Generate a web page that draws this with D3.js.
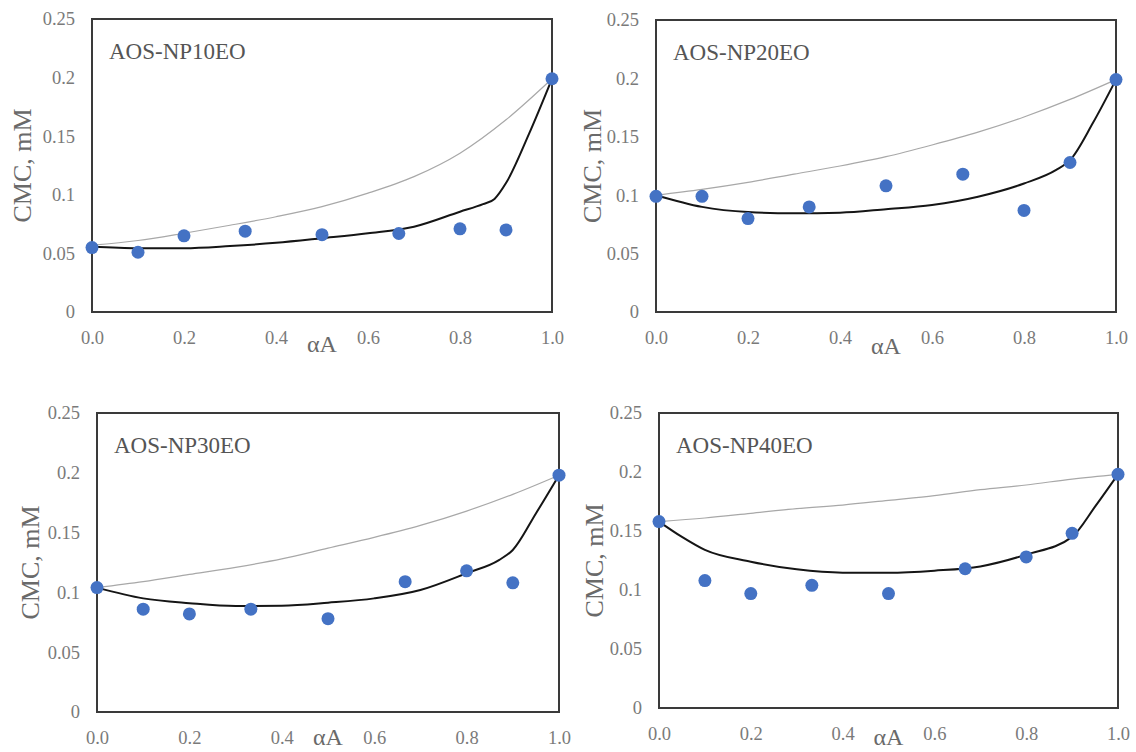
<!DOCTYPE html>
<html>
<head>
<meta charset="utf-8">
<script src="https://cdn.jsdelivr.net/npm/d3@7"></script>
<style>
  html, body { margin: 0; padding: 0; background: #fff; }
  svg { display: block; }
</style>
</head>
<body>
<svg id="chart" width="1136" height="752"></svg>
<script>
// ---------- data ----------
const titles = ["AOS-NP10EO", "AOS-NP20EO", "AOS-NP30EO", "AOS-NP40EO"];
const xTicks = [0, 0.2, 0.4, 0.6, 0.8, 1.0];
const yTicks = [0, 0.05, 0.1, 0.15, 0.2, 0.25];
const xLabel = "αA";
const yLabel = "CMC, mM";

// experimental points
const pointAlpha = [0, 0.1, 0.2, 0.333, 0.5, 0.667, 0.8, 0.9, 1.0];
const cmc10 = [0.055, 0.051, 0.065, 0.069, 0.066, 0.067, 0.071, 0.070, 0.199];
const cmc20 = [0.099, 0.099, 0.080, 0.090, 0.108, 0.118, 0.087, 0.128, 0.199];
const cmc30 = [0.104, 0.086, 0.082, 0.086, 0.078, 0.109, 0.118, 0.108, 0.198];
const cmc40 = [0.158, 0.108, 0.097, 0.104, 0.097, 0.118, 0.128, 0.148, 0.198];

// ideal mixing (thin grey line)
const idealAlpha = [0, 0.1, 0.2, 0.3, 0.4, 0.5, 0.6, 0.7, 0.8, 0.9, 1.0];
const ideal10 = [0.057, 0.061, 0.0672, 0.074, 0.0813, 0.0899, 0.1014, 0.1155, 0.1355, 0.164, 0.199];
const ideal20 = [0.100, 0.105, 0.111, 0.118, 0.125, 0.133, 0.143, 0.154, 0.167, 0.182, 0.199];
const ideal30 = [0.104, 0.109, 0.115, 0.121, 0.128, 0.137, 0.146, 0.156, 0.168, 0.182, 0.198];
const ideal40 = [0.158, 0.161, 0.165, 0.169, 0.172, 0.176, 0.180, 0.185, 0.189, 0.194, 0.198];

// regular solution (black line)
const regAlpha10 = [0, 0.1, 0.2, 0.3, 0.4, 0.5, 0.6, 0.7, 0.8, 0.85, 0.875, 0.9, 0.95, 1.0];
const reg10 = [0.0557, 0.0545, 0.0545, 0.0563, 0.059, 0.0629, 0.0671, 0.0728, 0.0856, 0.092, 0.0965, 0.11, 0.152, 0.199];
const regAlpha20 = [0, 0.1, 0.2, 0.3, 0.4, 0.5, 0.6, 0.7, 0.8, 0.87, 0.9, 0.95, 1.0];
const reg20 = [0.1, 0.09, 0.0856, 0.0845, 0.085, 0.088, 0.0916, 0.0987, 0.11, 0.1216, 0.13, 0.162, 0.199];
const regAlpha30 = [0, 0.1, 0.2, 0.3, 0.4, 0.5, 0.6, 0.7, 0.8, 0.87, 0.9, 0.95, 1.0];
const reg30 = [0.104, 0.095, 0.091, 0.0886, 0.0889, 0.0914, 0.095, 0.102, 0.116, 0.127, 0.1355, 0.166, 0.198];
const regAlpha40 = [0, 0.05, 0.1, 0.2, 0.3, 0.4, 0.5, 0.6, 0.7, 0.8, 0.9, 0.95, 1.0];
const reg40 = [0.158, 0.145, 0.134, 0.124, 0.1175, 0.1147, 0.1147, 0.1164, 0.12, 0.13, 0.145, 0.1706, 0.198];

const seriesPoints = [cmc10, cmc20, cmc30, cmc40];
const seriesIdeal = [ideal10, ideal20, ideal30, ideal40];
const seriesRegAlpha = [regAlpha10, regAlpha20, regAlpha30, regAlpha40];
const seriesReg = [reg10, reg20, reg30, reg40];

// ---------- layout ----------
const layout = [
  { l: 92,  r: 552,  t: 19,  b: 312, yl: 22,  xlOff: 40 },
  { l: 656, r: 1116, t: 20,  b: 312, yl: 592, xlOff: 42 },
  { l: 97,  r: 559,  t: 413, b: 712, yl: 30,  xlOff: 33 },
  { l: 659, r: 1118, t: 413, b: 708, yl: 594, xlOff: 37 }
];

const svg = d3.select("#chart");
const serif = "'Liberation Serif', 'Times New Roman', Times, serif";

layout.forEach((p, i) => {
  const x = d3.scaleLinear().domain([0, 1]).range([p.l, p.r]);
  const y = d3.scaleLinear().domain([0, 0.25]).range([p.b, p.t]);
  const g = svg.append("g");

  // y axis tick labels
  const yAxis = d3.axisLeft(y).tickValues(yTicks).tickSize(0).tickPadding(17)
    .tickFormat(d => d === 0 ? "0" : String(+d.toFixed(2)));
  const ya = g.append("g").attr("transform", `translate(${p.l},0)`).call(yAxis);
  ya.select(".domain").remove();
  ya.selectAll("text").attr("font-family", serif).attr("font-size", 18.5).attr("fill", "#7a7a7a");

  // x axis tick labels
  const xAxis = d3.axisBottom(x).tickValues(xTicks).tickSize(0).tickPadding(19)
    .tickFormat(d3.format(".1f"));
  const xa = g.append("g").attr("transform", `translate(0,${p.b})`).call(xAxis);
  xa.select(".domain").remove();
  xa.selectAll("text").attr("font-family", serif).attr("font-size", 18.5).attr("fill", "#7a7a7a");

  // frame
  g.append("rect")
    .attr("x", p.l).attr("y", p.t)
    .attr("width", p.r - p.l).attr("height", p.b - p.t)
    .attr("fill", "none").attr("stroke", "#3a3a3a").attr("stroke-width", 2);

  // ideal line
  const line = d3.line().x(d => x(d[0])).y(d => y(d[1])).curve(d3.curveMonotoneX);
  g.append("path")
    .datum(idealAlpha.map((a, k) => [a, seriesIdeal[i][k]]))
    .attr("d", line).attr("fill", "none").attr("stroke", "#a8a8a8").attr("stroke-width", 1.2);

  // regular solution line
  g.append("path")
    .datum(seriesRegAlpha[i].map((a, k) => [a, seriesReg[i][k]]))
    .attr("d", line).attr("fill", "none").attr("stroke", "#151515").attr("stroke-width", 2);

  // points
  g.selectAll("circle.pt")
    .data(pointAlpha.map((a, k) => [a, seriesPoints[i][k]]))
    .enter().append("circle")
    .attr("class", "pt")
    .attr("cx", d => x(d[0])).attr("cy", d => y(d[1]))
    .attr("r", 6.5).attr("fill", "#4472C4");

  // title
  g.append("text")
    .attr("x", p.l + 17).attr("y", p.t + 40)
    .attr("font-family", serif).attr("font-size", 23).attr("fill", "#555555")
    .text(titles[i]);

  // x label
  g.append("text")
    .attr("x", (p.l + p.r) / 2).attr("y", p.b + p.xlOff)
    .attr("text-anchor", "middle")
    .attr("font-family", serif).attr("font-size", 24).attr("fill", "#6a6a6a")
    .text(xLabel);

  // y label
  g.append("text")
    .attr("transform", `translate(${p.yl},${(p.t + p.b) / 2}) rotate(-90)`)
    .attr("text-anchor", "middle").attr("dominant-baseline", "central")
    .attr("font-family", serif).attr("font-size", 26).attr("fill", "#6a6a6a")
    .text(yLabel);
});
</script>
</body>
</html>
